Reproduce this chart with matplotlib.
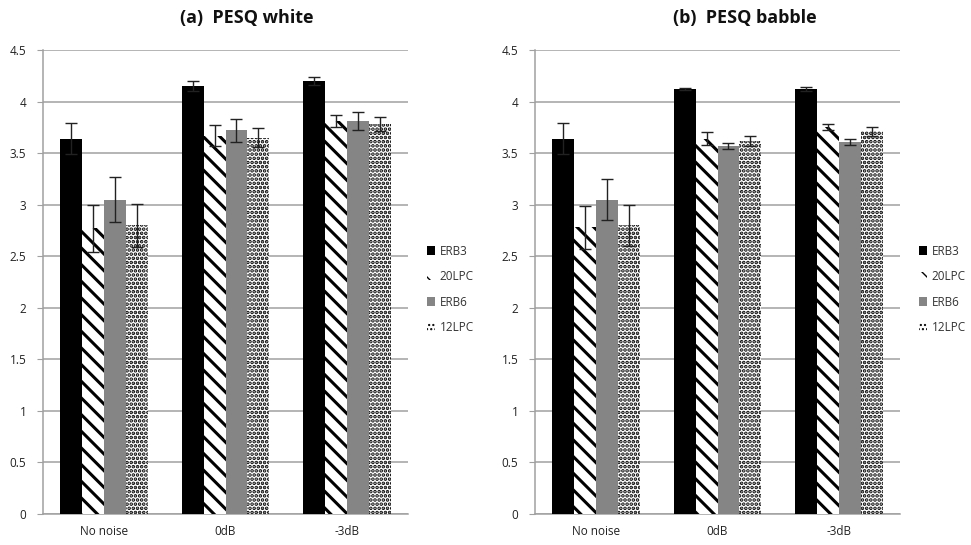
import numpy as np
import matplotlib.pyplot as plt
from matplotlib.patches import Patch

plt.rcParams['font.family'] = ['Open Sans', 'DejaVu Sans']

conditions = ['No noise', '0dB', '-3dB']
methods = ['ERB3', '20LPC', 'ERB6', '12LPC']

# (a) PESQ white
white_mean = {
	'ERB3': [3.64, 4.15, 4.20],
	'20LPC': [2.77, 3.67, 3.81],
	'ERB6': [3.05, 3.72, 3.81],
	'12LPC': [2.80, 3.65, 3.78],
}
white_err = {
	'ERB3': [0.15, 0.05, 0.04],
	'20LPC': [0.23, 0.10, 0.06],
	'ERB6': [0.22, 0.11, 0.09],
	'12LPC': [0.21, 0.09, 0.07],
}

# (b) PESQ babble
babble_mean = {
	'ERB3': [3.64, 4.12, 4.12],
	'20LPC': [2.78, 3.64, 3.75],
	'ERB6': [3.05, 3.57, 3.61],
	'12LPC': [2.80, 3.62, 3.71],
}
babble_err = {
	'ERB3': [0.15, 0.01, 0.02],
	'20LPC': [0.21, 0.06, 0.03],
	'ERB6': [0.20, 0.03, 0.03],
	'12LPC': [0.20, 0.05, 0.04],
}

styles = {
	'ERB3': dict(facecolor='black', hatch=None, edgecolor='black', hlw=1.0),
	'20LPC': dict(facecolor='white', hatch='\\\\', edgecolor='black', hlw=2.2),
	'ERB6': dict(facecolor='#858585', hatch=None, edgecolor='#858585', hlw=1.0),
	'12LPC': dict(facecolor='white', hatch='....', edgecolor='black', hlw=1.8),
}


def draw_panel(ax, means, errs):
	x = np.arange(len(conditions))
	w = 0.18
	for i, m in enumerate(methods):
		pos = x + (i - 1.5) * w
		st = styles[m]
		with plt.rc_context({'hatch.linewidth': st['hlw']}):
			ax.bar(pos, means[m], w, facecolor=st['facecolor'], hatch=st['hatch'],
				edgecolor=st['edgecolor'], linewidth=0, zorder=3, label=m)
		ax.errorbar(pos, means[m], yerr=errs[m], fmt='none', ecolor='#222222',
			elinewidth=1.0, capsize=4, capthick=1.0, zorder=4)
	ax.set_xlim(-0.5, 2.5)
	ax.set_ylim(0, 4.5)
	ax.set_yticks(np.arange(0, 4.51, 0.5))
	ax.set_yticklabels(['0', '0.5', '1', '1.5', '2', '2.5', '3', '3.5', '4', '4.5'])
	ax.set_xticks(x)
	ax.set_xticklabels(conditions)
	ax.yaxis.grid(True, color='#a0a0a0', linewidth=1.1, zorder=0)
	ax.set_axisbelow(True)
	for s in ['top', 'right']:
		ax.spines[s].set_visible(False)
	ax.spines['left'].set_color('#a0a0a0')
	ax.spines['bottom'].set_color('#a0a0a0')
	ax.spines['left'].set_linewidth(1.1)
	ax.spines['bottom'].set_linewidth(1.1)
	ax.tick_params(axis='y', length=4, color='#a0a0a0', labelsize=8.5, pad=8, labelcolor='#222222')
	ax.tick_params(axis='x', length=0, labelsize=8.5, pad=8, labelcolor='#222222')


fig = plt.figure(figsize=(9.71, 5.45), dpi=100)
ax1 = fig.add_axes([43 / 971, 1 - 514 / 545, 365 / 971, 464 / 545])
ax2 = fig.add_axes([535 / 971, 1 - 514 / 545, 365 / 971, 464 / 545])

draw_panel(ax1, white_mean, white_err)
draw_panel(ax2, babble_mean, babble_err)

fig.text(247 / 971, 1 - 18 / 545, '(a)  PESQ white', ha='center', va='center',
	fontsize=13, fontweight='bold', color='#111111')
fig.text(745 / 971, 1 - 18 / 545, '(b)  PESQ babble', ha='center', va='center',
	fontsize=13, fontweight='bold', color='#111111')

for ax, lx in [(ax1, 422), (ax2, 914)]:
	handles = []
	for m in methods:
		st = styles[m]
		with plt.rc_context({'hatch.linewidth': st['hlw']}):
			handles.append(Patch(facecolor=st['facecolor'], hatch=st['hatch'],
				edgecolor=st['edgecolor'], linewidth=0, label=m))
	fig.legend(handles=handles, loc='upper left', bbox_to_anchor=(lx / 971, 1 - 240 / 545),
		frameon=False, fontsize=8.5, handlelength=0.7, handleheight=0.7,
		handletextpad=0.4, labelspacing=1.05, borderaxespad=0, labelcolor='#333333')

fig.savefig('out.png', dpi=100)
